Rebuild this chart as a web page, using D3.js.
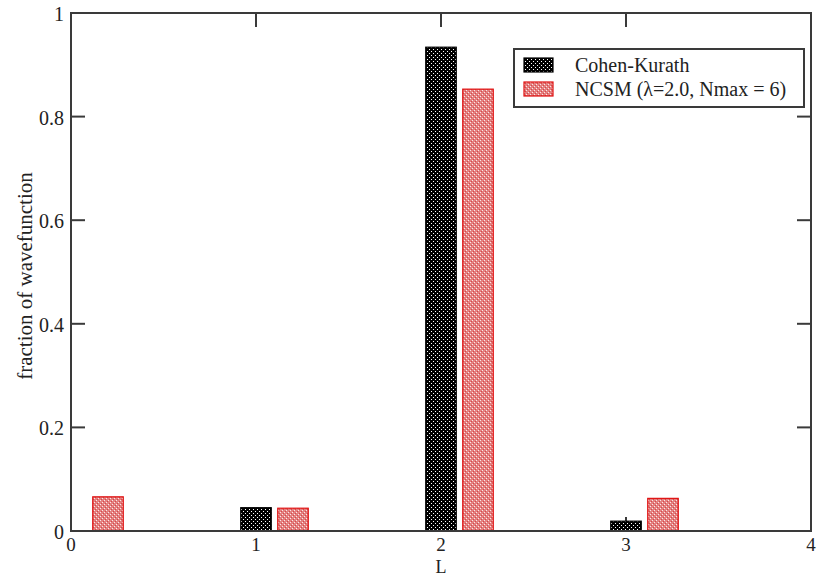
<!DOCTYPE html>
<html>
<head>
<meta charset="utf-8">
<script src="https://cdn.jsdelivr.net/npm/d3@7/dist/d3.min.js"></script>
<style>
  html, body { margin: 0; padding: 0; background: #fff; }
  svg text { font-family: "Liberation Serif", "DejaVu Serif", serif; fill: #222; }
</style>
</head>
<body>
<svg id="chart" width="817" height="577"></svg>
<script>
// Orbital angular momentum L of the wavefunction components
const categories = [0, 1, 2, 3];
const xTicks = [0, 1, 2, 3, 4];
const yTicks = [0, 0.2, 0.4, 0.6, 0.8, 1];
const yTickLabels = ["0", "0.2", "0.4", "0.6", "0.8", "1"];

// Fraction of the wavefunction in each L component
const cohenKurath = [0, 0.045, 0.934, 0.019];
const ncsm = [0.066, 0.044, 0.853, 0.063];

const seriesNames = ["Cohen-Kurath", "NCSM (\u03bb=2.0, Nmax = 6)"];
const seriesOffsets = [0, 0.2];

const svg = d3.select("#chart");
const m = { left: 71, right: 811, top: 13, bottom: 531 };

const x = d3.scaleLinear().domain([0, 4]).range([m.left, m.right]);
const y = d3.scaleLinear().domain([0, 1]).range([m.bottom, m.top]);
const barW = 0.165;

// Fill patterns: dotted black and dotted red
const defs = svg.append("defs");
const pBlack = defs.append("pattern").attr("id", "dotBlack")
  .attr("width", 4).attr("height", 4).attr("patternUnits", "userSpaceOnUse");
pBlack.append("rect").attr("width", 4).attr("height", 4).attr("fill", "#000");
pBlack.append("rect").attr("x", 1).attr("y", 1).attr("width", 1).attr("height", 1).attr("fill", "#fff");
pBlack.append("rect").attr("x", 3).attr("y", 3).attr("width", 1).attr("height", 1).attr("fill", "#fff");

const pRed = defs.append("pattern").attr("id", "dotRed")
  .attr("width", 4).attr("height", 4).attr("patternUnits", "userSpaceOnUse");
pRed.append("rect").attr("width", 4).attr("height", 4).attr("fill", "#e38080");
pRed.append("rect").attr("x", 0).attr("y", 0).attr("width", 1).attr("height", 1).attr("fill", "#fbe6e6");
pRed.append("rect").attr("x", 2).attr("y", 2).attr("width", 1).attr("height", 1).attr("fill", "#fbe6e6");
pRed.append("rect").attr("x", 1).attr("y", 3).attr("width", 1).attr("height", 1).attr("fill", "#d64848");
pRed.append("rect").attr("x", 3).attr("y", 1).attr("width", 1).attr("height", 1).attr("fill", "#d64848");

const fills = ["url(#dotBlack)", "url(#dotRed)"];
const strokes = ["#000", "#e01010"];

// Inward ticks on all four sides
const tickLen = 14;
const frameColor = "#3a3a3a";
const ticks = svg.append("g").attr("stroke", frameColor).attr("stroke-width", 2);
xTicks.forEach(t => {
  ticks.append("line").attr("x1", x(t)).attr("x2", x(t)).attr("y1", m.bottom).attr("y2", m.bottom - tickLen);
  ticks.append("line").attr("x1", x(t)).attr("x2", x(t)).attr("y1", m.top).attr("y2", m.top + tickLen);
});
yTicks.forEach(t => {
  ticks.append("line").attr("x1", m.left).attr("x2", m.left + tickLen).attr("y1", y(t)).attr("y2", y(t));
  ticks.append("line").attr("x1", m.right).attr("x2", m.right - tickLen).attr("y1", y(t)).attr("y2", y(t));
});

// Bars
[cohenKurath, ncsm].forEach((vals, si) => {
  const data = categories.map((c, i) => ({ c, v: vals[i] })).filter(d => d.v > 0);
  svg.append("g").selectAll("rect").data(data).join("rect")
    .attr("x", d => x(d.c + seriesOffsets[si] - barW / 2))
    .attr("y", d => y(d.v))
    .attr("width", d => x(d.c + seriesOffsets[si] + barW / 2) - x(d.c + seriesOffsets[si] - barW / 2))
    .attr("height", d => y(0) - y(d.v))
    .attr("fill", fills[si])
    .attr("stroke", strokes[si])
    .attr("stroke-width", 1.2);
});

// Frame
svg.append("rect")
  .attr("x", m.left).attr("y", m.top)
  .attr("width", m.right - m.left).attr("height", m.bottom - m.top)
  .attr("fill", "none").attr("stroke", frameColor).attr("stroke-width", 2);

// Tick labels
svg.append("g").selectAll("text").data(xTicks).join("text")
  .attr("x", d => x(d)).attr("y", 551)
  .attr("text-anchor", "middle").attr("font-size", 19)
  .text(d => d);
svg.append("g").selectAll("text").data(yTicks).join("text")
  .attr("x", 64).attr("y", d => y(d) + 8)
  .attr("text-anchor", "end").attr("font-size", 20)
  .text((d, i) => yTickLabels[i]);

// Axis titles
svg.append("text").attr("x", 441).attr("y", 573)
  .attr("text-anchor", "middle").attr("font-size", 18).text("L");
svg.append("text")
  .attr("transform", "translate(32,276) rotate(-90)")
  .attr("text-anchor", "middle").attr("font-size", 21)
  .text("fraction of wavefunction");

// Legend
const lg = svg.append("g");
lg.append("rect").attr("x", 514).attr("y", 49).attr("width", 290).attr("height", 58)
  .attr("fill", "#fff").attr("stroke", frameColor).attr("stroke-width", 2);
seriesNames.forEach((name, i) => {
  const yy = 65 + i * 24;
  lg.append("rect").attr("x", 524).attr("y", yy - 7).attr("width", 29).attr("height", 14)
    .attr("fill", fills[i]).attr("stroke", strokes[i]).attr("stroke-width", 1.2);
  lg.append("text").attr("x", 575).attr("y", yy + 7).attr("font-size", 20).text(name);
});
</script>
</body>
</html>
